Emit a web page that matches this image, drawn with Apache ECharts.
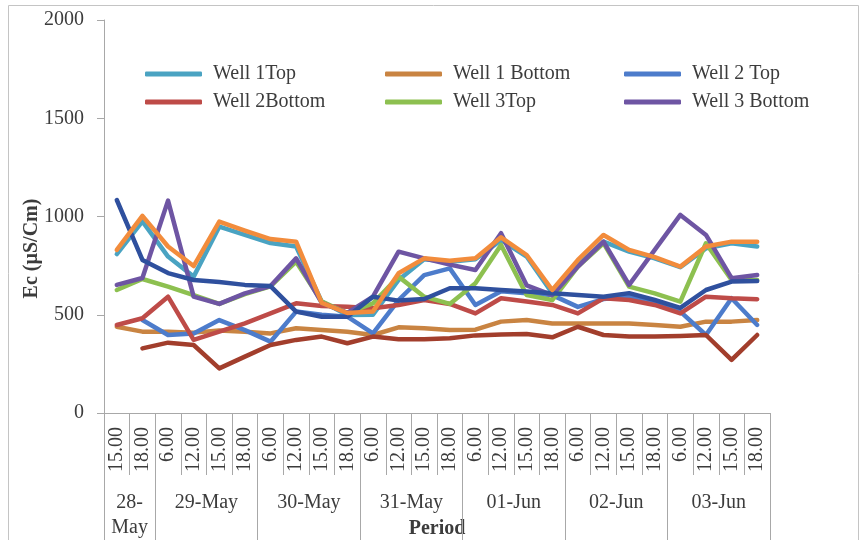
<!DOCTYPE html>
<html>
<head>
<meta charset="utf-8">
<script src="https://cdn.jsdelivr.net/npm/echarts@6/dist/echarts.min.js"></script>
<style>
  html, body { margin: 0; padding: 0; background: #fff; }
  #chart { width: 862px; height: 540px; }
</style>
</head>
<body>
<div id="chart"></div>
<script>
// ---- Data ----
const hourLabels = ['15.00','18.00',
  '6.00','12.00','15.00','18.00',
  '6.00','12.00','15.00','18.00',
  '6.00','12.00','15.00','18.00',
  '6.00','12.00','15.00','18.00',
  '6.00','12.00','15.00','18.00',
  '6.00','12.00','15.00','18.00'];
const dateLabels = ['28-\nMay','29-May','30-May','31-May','01-Jun','02-Jun','03-Jun'];
const dateGroupSizes = [2,4,4,4,4,4,4];
const yTicks = [0, 500, 1000, 1500, 2000];

const well1Top    = [809, 975, 796, 694, 948, 906, 865, 847, 567, 499, 500, 677, 783, 770, 783, 880, 796, 609, 753, 872, 821, 787, 742, 838, 864, 847];
const well1Bottom = [439, 414, 414, 409, 420, 414, 405, 431, 422, 414, 397, 436, 431, 422, 424, 465, 473, 456, 456, 456, 456, 448, 439, 465, 465, 473];
const well2Top    = [null, 473, 397, 405, 473, 422, 363, 516, 500, 490, 405, 575, 702, 736, 550, 620, 610, 600, 540, 580, 590, 560, 516, 397, 584, 448];
const well2Bottom = [448, 482, 592, 372, 414, 456, 507, 558, 545, 541, 533, 550, 575, 555, 507, 584, 567, 550, 507, 584, 575, 550, 507, 592, 584, 579];
const well3Top    = [626, 682, 643, 600, 555, 605, 645, 770, 567, 509, 558, 694, 592, 555, 660, 855, 600, 575, 745, 864, 643, 609, 567, 864, 677, 677];
const well3Bottom = [652, 687, 1081, 592, 555, 609, 646, 787, 560, 510, 592, 821, 787, 755, 728, 915, 650, 600, 745, 872, 652, 830, 1008, 906, 686, 702];
const extraDarkBlue = [1084, 779, 712, 677, 667, 652, 646, 516, 490, 490, 592, 572, 580, 635, 635, 626, 618, 609, 601, 592, 610, 575, 535, 626, 669, 672];
const extraDarkRed  = [null, 329, 358, 346, 227, 287, 346, 372, 389, 355, 389, 375, 375, 380, 395, 400, 402, 385, 439, 397, 389, 389, 392, 397, 270, 397];
const extraOrange   = [830, 1003, 847, 748, 974, 928, 885, 872, 560, 509, 516, 711, 787, 775, 787, 894, 804, 626, 779, 906, 830, 793, 745, 847, 872, 872];

const seriesNames = ['Well 1Top','Well 1 Bottom','Well 2 Top','Well 2Bottom','Well 3Top','Well 3 Bottom','Series 7','Series 8','Series 9'];
const seriesValues = [well1Top, well1Bottom, well2Top, well2Bottom, well3Top, well3Bottom, extraDarkBlue, extraDarkRed, extraOrange];
const seriesColors = ['#4AA3C2','#C98442','#4D7CCB','#BE4B48','#8DC050','#6E55A3','#2F509E','#A23E2C','#F28C3C'];

// derived group positions
const groupStarts = [];
const groupCenters = {};
let acc = 0;
dateGroupSizes.forEach((s, i) => { groupStarts.push(acc); groupCenters[acc + s / 2] = dateLabels[i]; acc += s; });
const nCats = hourLabels.length;

const FONT = 'Liberation Serif';
const TXT = '#3c3c3c';
const AX = '#a8a8a8';

const chart = echarts.init(document.getElementById('chart'), null, { renderer: 'canvas' });

function legendCol(left, names) {
  return {
    data: names, orient: 'vertical', left: left, top: 63, padding: 0,
    itemWidth: 57, itemHeight: 5, itemGap: 6, icon: 'roundRect',
    selectedMode: false,
    textStyle: { fontFamily: FONT, fontSize: 20, color: TXT, lineHeight: 22, padding: [0, 0, 0, 6] }
  };
}

chart.setOption({
  animation: false,
  textStyle: { fontFamily: FONT },
  graphic: [{
    type: 'rect', shape: { x: 8.5, y: 5.5, width: 850, height: 545 },
    style: { fill: 'none', stroke: '#c4c4c4', lineWidth: 1 }, silent: true
  }],
  legend: [
    legendCol(145, ['Well 1Top', 'Well 2Bottom']),
    legendCol(385, ['Well 1 Bottom', 'Well 3Top']),
    legendCol(624, ['Well 2 Top', 'Well 3 Bottom'])
  ],
  grid: { left: 104, right: 92, top: 20, bottom: 127, containLabel: false, outerBoundsMode: 'none' },
  xAxis: [
    {
      type: 'category', data: hourLabels, position: 'bottom', boundaryGap: true,
      axisLine: { show: true, lineStyle: { color: AX, width: 1 } },
      axisTick: { show: true, interval: 0, length: 62, lineStyle: { color: AX } },
      axisLabel: { interval: 0, rotate: 90, margin: 14, fontFamily: FONT, fontSize: 20, color: TXT }
    },
    {
      type: 'value', min: 0, max: nCats, interval: 1, position: 'bottom',
      axisLine: { show: false }, axisTick: { show: false }, splitLine: { show: false },
      axisLabel: {
        margin: 77, fontFamily: FONT, fontSize: 20, color: TXT, lineHeight: 25,
        formatter: v => groupCenters[v] || ''
      },
      name: 'Period', nameLocation: 'middle', nameGap: 106, nameMoveOverlap: false,
      nameTextStyle: { fontFamily: FONT, fontSize: 20, fontWeight: 'bold', color: TXT }
    },
    {
      type: 'category', data: hourLabels, position: 'bottom', boundaryGap: true,
      axisLine: { show: false },
      axisTick: { show: true, length: 127, interval: (idx) => groupStarts.indexOf(idx) >= 0, lineStyle: { color: AX } },
      axisLabel: { show: false }
    }
  ],
  yAxis: {
    type: 'value', min: yTicks[0], max: yTicks[yTicks.length - 1], interval: yTicks[1] - yTicks[0],
    axisLine: { show: true, lineStyle: { color: AX } },
    axisTick: { show: true, length: 7, lineStyle: { color: AX } },
    splitLine: { show: false },
    axisLabel: { margin: 20, fontFamily: FONT, fontSize: 20, color: TXT, formatter: v => String(v) },
    name: 'Ec (µS/Cm)', nameLocation: 'middle', nameGap: 62, nameMoveOverlap: false,
    nameTextStyle: { fontFamily: FONT, fontSize: 20, fontWeight: 'bold', color: TXT, padding: [0, 64, 0, 0] }
  },
  series: seriesNames.map((n, i) => ({
    name: n, type: 'line', data: seriesValues[i], xAxisIndex: 0,
    symbol: 'none', connectNulls: false,
    lineStyle: { width: 4.5, color: seriesColors[i], join: 'round', cap: 'round' },
    itemStyle: { color: seriesColors[i] },
    emphasis: { disabled: true }, z: 2 + i
  }))
});
</script>
</body>
</html>
